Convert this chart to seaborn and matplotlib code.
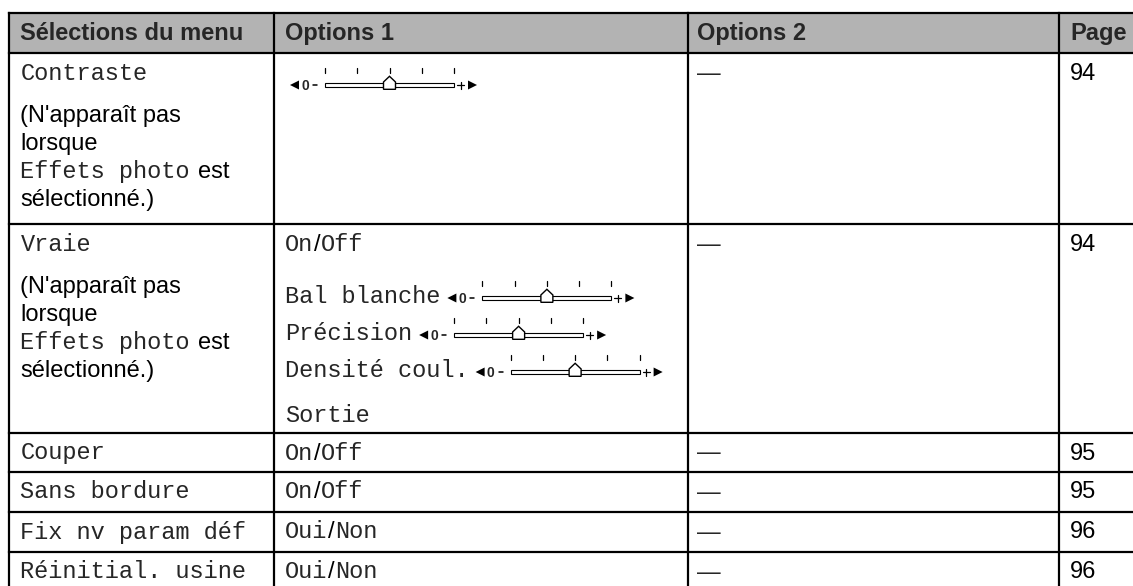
import numpy as np
import pandas as pd
import matplotlib.pyplot as plt
import seaborn as sns
from matplotlib.patches import Rectangle, Polygon

# table content
headers = ["Sélections du menu", "Options 1", "Options 2", "Page"]
menu_items = ["Contraste", "Vraie", "Couper", "Sans bordure",
              "Fix nv param déf", "Réinitial. usine"]
note_lines = ["(N'apparaît pas", "lorsque", "Effets photo|est", "sélectionné.)"]
options1 = [None, "On/Off", "On/Off", "On/Off", "Oui/Non", "Oui/Non"]
vraie_sub = ["Bal blanche", "Précision", "Densité coul."]
vraie_exit = "Sortie"
options2 = ["—", "—", "—", "—", "—", "—"]
pages = [94, 94, 95, 95, 96, 96]
slider_steps = 4
contraste_level = 2
vraie_levels = [2, 2, 2]

sns.set_theme(style="white")
plt.rcParams['font.family'] = ['Liberation Sans', 'DejaVu Sans']

W, H = 1133, 586
FS = 17
SANS = 'Liberation Sans'
MONO = 'Liberation Mono'
MONO_C = '#262626'

fig = plt.figure(figsize=(W / 100, H / 100), dpi=100)
ax = fig.add_axes([0, 0, 1, 1])
ax.set_xlim(0, W)
ax.set_ylim(H, 0)
ax.axis('off')
renderer = fig.canvas.get_renderer()

col_x = [8.5, 274, 688, 1059, 1140]
row_y = [13, 53, 224, 433, 472, 512, 552, 592]
text_x = [20.5, 285, 697, 1070]
LW = 1.6

# header band and grid
ax.add_patch(Rectangle((col_x[0], row_y[0]), col_x[-1] - col_x[0], row_y[1] - row_y[0],
                       fc='#b3b3b3', ec='none', zorder=0))
for y in row_y:
    ax.plot([col_x[0], col_x[-1]], [y, y], color='black', lw=LW, solid_capstyle='projecting')
for x in col_x:
    ax.plot([x, x], [row_y[0], row_y[-1]], color='black', lw=LW, solid_capstyle='projecting')


def put(x, y, s, mono=False, **kw):
    t = ax.text(x, y, s, family=MONO if mono else SANS, fontsize=FS,
                color=MONO_C if mono else 'black', ha='left', va='baseline', **kw)
    return t.get_window_extent(renderer).x1


def mixed(x, y, s):
    # "On/Off": words in mono, slash in sans
    a, b = s.split('/')
    x = put(x, y, a, mono=True)
    x = put(x + 0.5, y, '/')
    put(x + 0.5, y, b, mono=True)


def slider(L, yc, level, steps=slider_steps):
    tl = 129
    t0 = L + 35
    ax.add_patch(Polygon([(L, yc), (L + 9, yc - 4.5), (L + 9, yc + 4.5)], fc='black', ec='none'))
    ax.text(L + 11, yc + 4.8, "0", family=SANS, fontsize=10, weight='bold', va='baseline')
    ax.plot([L + 23, L + 27], [yc, yc], color='black', lw=1.1)
    ax.add_patch(Rectangle((t0, yc - 2), tl, 4, fc='white', ec='black', lw=0.8))
    for k in range(steps + 1):
        tx = t0 + k * tl / steps
        ax.plot([tx, tx], [yc - 17.5, yc - 12.5], color='black', lw=0.9)
    cx = t0 + level * tl / steps
    ax.add_patch(Polygon([(cx - 6, yc + 4.3), (cx + 6, yc + 4.3), (cx + 6, yc - 3),
                          (cx, yc - 8.7), (cx - 6, yc - 3)], fc='white', ec='black', lw=1, zorder=3))
    ax.plot([L + 167, L + 174], [yc, yc], color='black', lw=0.9)
    ax.plot([L + 170.5, L + 170.5], [yc - 3.5, yc + 3.5], color='black', lw=0.9)
    ax.add_patch(Polygon([(L + 178, yc - 4.5), (L + 178, yc + 4.5), (L + 187, yc)], fc='black', ec='none'))


# header
for x, h in zip(text_x, headers):
    ax.text(x, 40, h, family=SANS, fontsize=FS, weight='bold', ha='left', va='baseline')

# body rows
for i, item in enumerate(menu_items):
    top = row_y[i + 1]
    base = top + 27 if i < 2 else top + 26.5
    put(text_x[0], base, item, mono=True)
    ax.text(text_x[2], base, options2[i], family=SANS, fontsize=FS, va='baseline')
    put(text_x[3], base, str(pages[i]))
    if options1[i] is not None:
        mixed(text_x[1], base, options1[i])
    if i < 2:
        for k, line in enumerate(note_lines):
            yb = top + 69 + 28 * k
            if '|' in line:
                a, b = line.split('|')
                x_end = put(text_x[0], yb, a, mono=True)
                put(x_end + 8, yb, b)
            else:
                put(text_x[0], yb, line)

# sliders
slider(text_x[1] + 5, row_y[1] + 32, contraste_level)
sub_base = [303, 340, 377]
for name, yb, lev in zip(vraie_sub, sub_base, vraie_levels):
    x_end = put(text_x[1], yb, name, mono=True)
    slider(x_end + 7, yb - 5, lev)
put(text_x[1], 422, vraie_exit, mono=True)

fig.savefig("out.png", dpi=100)
